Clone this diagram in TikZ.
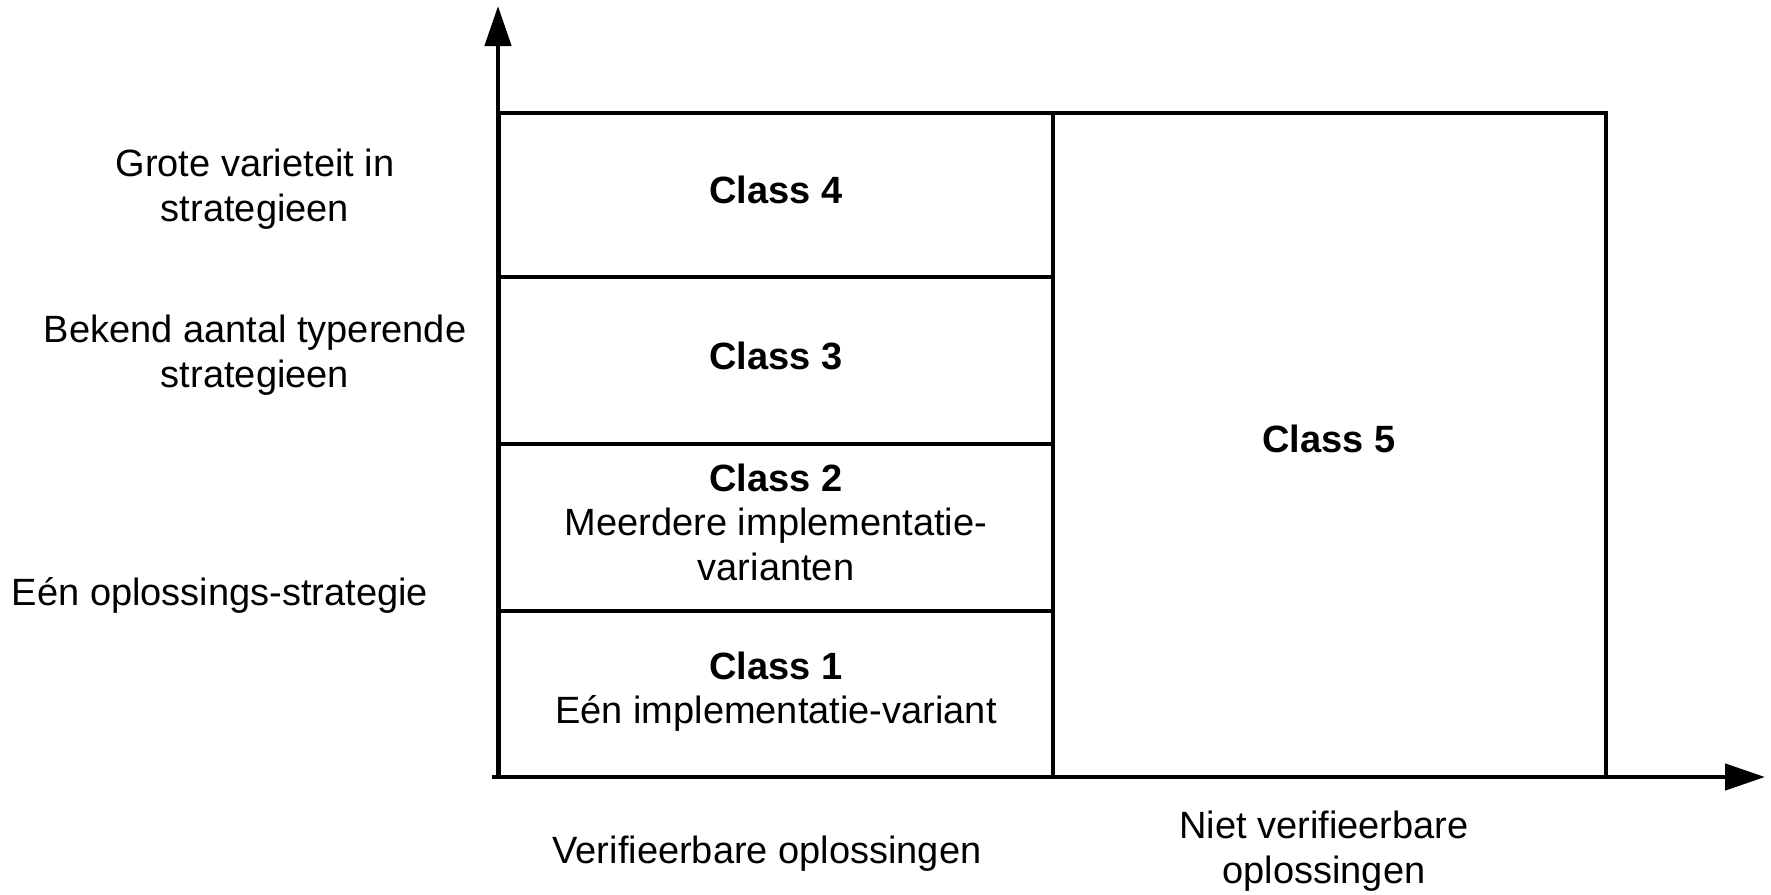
\documentclass[tikz,border=0pt]{standalone}
\usepackage{fontspec}
\setmainfont{Liberation Sans}
\usetikzlibrary{arrows.meta}
\begin{document}
\begin{tikzpicture}[x=1pt,y=-1pt,
  frame/.style={draw=black,line width=4.6pt,minimum width=#1,inner sep=0pt},
  axis/.style={line width=4.6pt,-{Triangle[length=40pt,width=26pt]}},
  lbl/.style={font=\fontsize{38}{45}\selectfont,align=center,anchor=base,inner sep=0pt},
  bold/.style={lbl,font=\fontsize{38}{45}\selectfont\bfseries}]
\useasboundingbox (0,0) rectangle (1771,894);
% axes end points
\coordinate (o) at (498,779);
\coordinate (ytop) at (498,6);
\coordinate (xo) at (492,777);
\coordinate (xend) at (1765,777);
% cells of the grid
\node[frame=554pt,minimum height=164pt] (c4) at (776,195) {};
\node[frame=554pt,minimum height=167pt] (c3) at (776,360.5) {};
\node[frame=554pt,minimum height=167pt] (c2) at (776,527.5) {};
\node[frame=554pt,minimum height=166pt] (c1) at (776,694) {};
\node[frame=553pt,minimum height=664pt] (c5) at (1329.5,445) {};
\draw[axis] (o) -- (ytop);
\draw[axis] (xo) -- (xend);
% cell texts (base = baseline of the last line)
\node[bold] (t4) at (776,203) {Class 4};
\node[bold] (t3) at (776,369) {Class 3};
\node[bold] (t2) at (776,491) {Class 2};
\node[lbl] (t2b) at (776,580) {Meerdere implementatie-\\varianten};
\node[bold] (t1) at (776,679) {Class 1};
\node[lbl] (t1b) at (776,723) {Eén implementatie-variant};
\node[bold] (t5) at (1329,452) {Class 5};
% vertical axis labels
\node[lbl] (ya) at (255,221) {Grote varieteit in\\strategieen};
\node[lbl] (yb) at (255,387) {Bekend aantal typerende\\strategieen};
\node[lbl] (yc) at (220,605) {Eén oplossings-strategie};
% horizontal axis labels
\node[lbl] (xa) at (767,863) {Verifieerbare oplossingen};
\node[lbl] (xb) at (1324,883) {Niet verifieerbare\\oplossingen};
\end{tikzpicture}
\end{document}
